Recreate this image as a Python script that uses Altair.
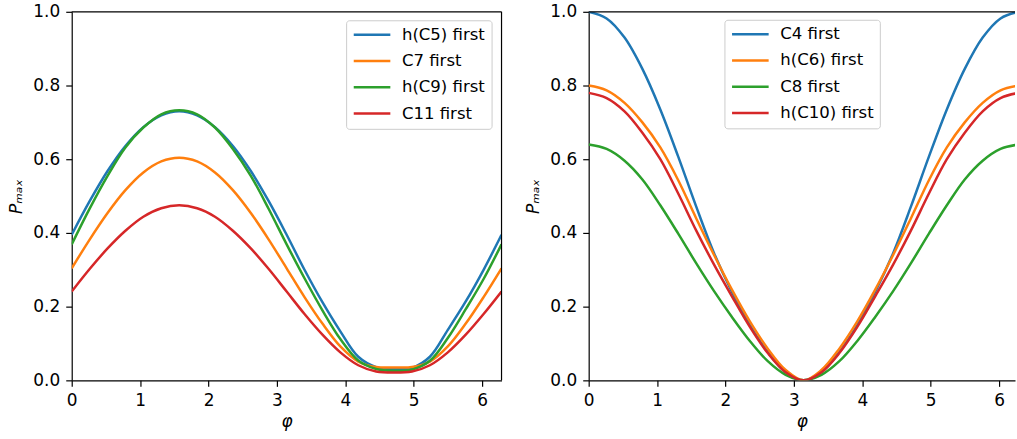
import altair as alt
import pandas as pd

# ---------------- data ----------------
phi = [0.0, 0.262, 0.524, 0.785, 1.047, 1.309, 1.571, 1.833, 2.094, 2.356,
       2.618, 2.880, 3.142, 3.403, 3.665, 3.927, 4.189, 4.451, 4.712, 4.974,
       5.236, 5.498, 5.760, 6.021, 6.283]

left_names = ["h(C5) first", "C7 first", "h(C9) first", "C11 first"]
h_c5 = [0.395, 0.486, 0.568, 0.636, 0.687, 0.719, 0.730, 0.719, 0.687, 0.636,
        0.568, 0.486, 0.395, 0.300, 0.212, 0.133, 0.064, 0.036, 0.031, 0.034,
        0.064, 0.137, 0.214, 0.300, 0.395]
c7 = [0.304, 0.382, 0.454, 0.516, 0.564, 0.594, 0.604, 0.594, 0.564, 0.516,
      0.454, 0.382, 0.304, 0.226, 0.154, 0.092, 0.051, 0.036, 0.035, 0.036,
      0.051, 0.092, 0.154, 0.226, 0.304]
h_c9 = [0.369, 0.466, 0.555, 0.632, 0.686, 0.722, 0.733, 0.722, 0.686, 0.628,
        0.555, 0.465, 0.369, 0.277, 0.190, 0.112, 0.054, 0.031, 0.026, 0.029,
        0.053, 0.115, 0.193, 0.275, 0.369]
c11 = [0.241, 0.302, 0.358, 0.406, 0.444, 0.467, 0.475, 0.467, 0.444, 0.406,
       0.358, 0.302, 0.241, 0.180, 0.124, 0.076, 0.041, 0.024, 0.021, 0.024,
       0.041, 0.076, 0.124, 0.180, 0.241]

right_names = ["C4 first", "h(C6) first", "C8 first", "h(C10) first"]
c4 = [1.000, 0.982, 0.930, 0.845, 0.735, 0.607, 0.472, 0.345, 0.240, 0.150,
      0.077, 0.022, 0.000, 0.022, 0.077, 0.150, 0.240, 0.345, 0.472, 0.607,
      0.735, 0.845, 0.930, 0.982, 1.000]
h_c6 = [0.800, 0.787, 0.753, 0.700, 0.632, 0.543, 0.440, 0.340, 0.246, 0.160,
        0.086, 0.028, 0.000, 0.028, 0.086, 0.160, 0.246, 0.340, 0.440, 0.543,
        0.632, 0.700, 0.753, 0.787, 0.800]
c8 = [0.640, 0.628, 0.596, 0.545, 0.475, 0.398, 0.318, 0.242, 0.172, 0.107,
      0.052, 0.015, 0.000, 0.015, 0.052, 0.107, 0.172, 0.242, 0.318, 0.398,
      0.475, 0.545, 0.596, 0.628, 0.640]
h_c10 = [0.780, 0.766, 0.730, 0.672, 0.600, 0.507, 0.407, 0.314, 0.228, 0.145,
         0.074, 0.022, 0.000, 0.022, 0.074, 0.145, 0.228, 0.314, 0.407, 0.507,
         0.600, 0.672, 0.730, 0.766, 0.780]

y_ticks = [0.0, 0.2, 0.4, 0.6, 0.8, 1.0]
x_ticks = [0, 1, 2, 3, 4, 5, 6]
colors = ["#1f77b4", "#ff7f0e", "#2ca02c", "#d62728"]
TWO_PI = 6.283185307


def long_df(names, series):
    rows = []
    for name, vals in zip(names, series):
        for p, v in zip(phi, vals):
            rows.append({"phi": p, "P": v, "series": name})
    return pd.DataFrame(rows)


left_df = long_df(left_names, [h_c5, c7, h_c9, c11])
right_df = long_df(right_names, [c4, h_c6, c8, h_c10])
spine_df = pd.DataFrame({"one": [1]})

FONT = "DejaVu Sans"
axis_style = dict(
    tickSize=6, tickWidth=1.2, tickColor="black",
    domainColor="black", domainWidth=1.2,
    labelFont=FONT, labelFontSize=17, labelColor="black", labelPadding=6,
    labelOverlap=False,
    titleFont=FONT, titleFontSize=17, titleFontWeight="normal",
    titleFontStyle="italic", titleColor="black", grid=False,
)


def panel(df, names, xmax, width, lx, ly, right_spine):
    x_axis = alt.Axis(values=x_ticks, format="d", title="φ", labelFlush=False,
                      titlePadding=5, **axis_style)
    y_axis = alt.Axis(values=y_ticks, format=".1f", title="Pₘₐₓ",
                      titlePadding=7, **axis_style)
    legend = alt.Legend(
        orient="none", legendX=lx, legendY=ly, title=None,
        symbolType="stroke", symbolSize=1350, symbolStrokeWidth=2.5,
        labelFont=FONT, labelFontSize=16.6, labelColor="black",
        padding=6, fillColor="white", strokeColor="#cccccc",
        cornerRadius=3, rowPadding=8.4, labelOffset=10, clipHeight=17,
    )
    lines = alt.Chart(df).mark_line(strokeWidth=2.5, interpolate="catmull-rom",
                                    clip=True).encode(
        x=alt.X("phi:Q", axis=x_axis,
                scale=alt.Scale(domain=[0, xmax], nice=False, zero=False)),
        y=alt.Y("P:Q", axis=y_axis,
                scale=alt.Scale(domain=[0, 1], nice=False)),
        color=alt.Color("series:N", legend=legend,
                        scale=alt.Scale(domain=names, range=colors)),
        order=alt.Order("series_order:Q"),
    ).transform_calculate(
        series_order="indexof(" + str(names) + ", datum.series)"
    )
    top = alt.Chart(spine_df).mark_rule(color="black", strokeWidth=1.2).encode(
        y=alt.datum(1.0)
    )
    layers = [lines, top]
    if right_spine:
        layers.append(alt.Chart(spine_df).mark_rule(color="black", strokeWidth=1.2)
                      .encode(x=alt.datum(TWO_PI)))
    return alt.layer(*layers).properties(width=width, height=370)


left = panel(left_df, left_names, TWO_PI, 431.5, 275.5, 8.5, True)
right = panel(right_df, right_names, 6.2327, 428, 136.3, 8, False)

chart = alt.hconcat(left, right, spacing=21).resolve_scale(
    x="independent", y="independent", color="independent"
).resolve_legend(color="independent").properties(
    padding={"left": 7, "top": 1, "right": 0, "bottom": 0},
    background="white",
).configure_view(stroke="transparent")

chart.save("out.html", embed_options={"renderer": "svg", "actions": False})
